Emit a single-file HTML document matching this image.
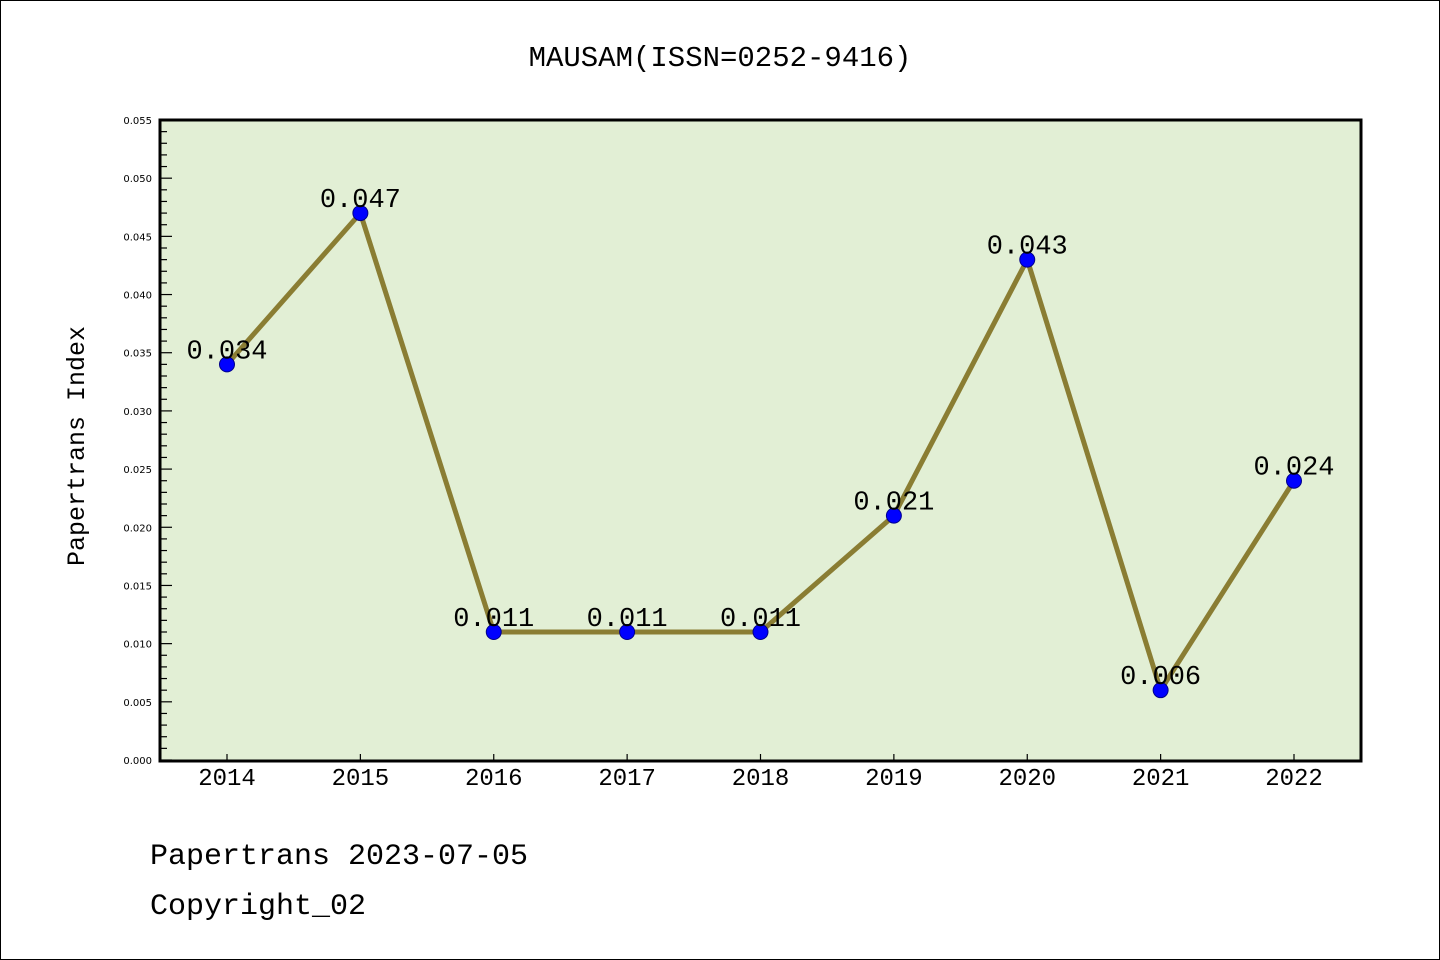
<!DOCTYPE html>
<html><head><meta charset="utf-8">
<style>
html,body{margin:0;padding:0;background:#fff;}
#wrap{position:relative;width:1440px;height:960px;overflow:hidden;}
svg text{font-family:"Liberation Mono","DejaVu Sans Mono",monospace;}
svg text.sans{font-family:"DejaVu Sans","Liberation Sans",sans-serif;}
</style></head>
<body>
<div id="wrap">
<svg id="chart" width="1440" height="960" xmlns="http://www.w3.org/2000/svg">
<rect x="0.5" y="0.5" width="1439" height="959" fill="#fff" stroke="#000" stroke-width="1"/>
<text x="720" y="66" font-size="29" text-anchor="middle">MAUSAM(ISSN=0252-9416)</text>
<rect x="160" y="120" width="1201" height="641" fill="#e2efd5"/>
<g id="yticks"></g>
<g id="xticks"></g>
<g id="series"></g>
<rect x="160" y="120" width="1201" height="641" fill="none" stroke="#000" stroke-width="3"/>
<text transform="translate(84,446) rotate(-90)" font-size="25" text-anchor="middle">Papertrans Index</text>
<text x="150" y="864" font-size="30">Papertrans 2023-07-05</text>
<text x="150" y="914" font-size="30">Copyright_02</text>
</svg>
</div>
<script>
const years = ["2014","2015","2016","2017","2018","2019","2020","2021","2022"];
const values = [0.034,0.047,0.011,0.011,0.011,0.021,0.043,0.006,0.024];
const valueLabels = ["0.034","0.047","0.011","0.011","0.011","0.021","0.043","0.006","0.024"];
const yTickLabels = ["0.000","0.005","0.010","0.015","0.020","0.025","0.030","0.035","0.040","0.045","0.050","0.055"];

const NS="http://www.w3.org/2000/svg";
const X0=227, X1=1294, Y0=760, Y1=120, YMAX=0.055;
function xs(i){return X0+(X1-X0)*i/(years.length-1);}
function ys(v){return Y0-(Y0-Y1)*v/YMAX;}
function mk(tag,attrs,parent){const e=document.createElementNS(NS,tag);for(const k in attrs)e.setAttribute(k,attrs[k]);parent.appendChild(e);return e;}

const yt=document.getElementById('yticks');
for(let k=0;k<=55;k++){
  const v=k*0.001, y=ys(v), major=k%5===0;
  const t=mk('line',{x1:160,x2:160+(major?12:7),y1:y,y2:y,stroke:'#000','stroke-width':1.2},yt);
  
  
}
yTickLabels.forEach((s,i)=>{
  const t=mk('text',{x:152,y:ys(parseFloat(s))+4,'font-size':10,'text-anchor':'end','class':'sans'},yt);
  t.textContent=s;
  
  
});
const xt=document.getElementById('xticks');
years.forEach((yr,i)=>{
  const x=xs(i);
  const l=mk('line',{x1:x,x2:x,y1:761,y2:754,stroke:'#000','stroke-width':1.2},xt);
  
  
  const t=mk('text',{x:x,y:785,'font-size':24,'text-anchor':'middle'},xt);
  t.textContent=yr;
  
  
});
const sg=document.getElementById('series');
const pts=values.map((v,i)=>xs(i)+','+ys(v)).join(' ');
const pl=mk('polyline',{points:pts,fill:'none',stroke:'#8a7d33','stroke-width':5,'stroke-linejoin':'round'},sg);


values.forEach((v,i)=>{
  const c=mk('circle',{cx:xs(i),cy:ys(v),r:7.5,fill:'#0000ff',stroke:'#00008b','stroke-width':1},sg);
  
  
  const t=mk('text',{x:xs(i),y:ys(v)-6,'font-size':27,'text-anchor':'middle'},sg);
  t.textContent=valueLabels[i];
  
  
});
</script>
</body></html>
